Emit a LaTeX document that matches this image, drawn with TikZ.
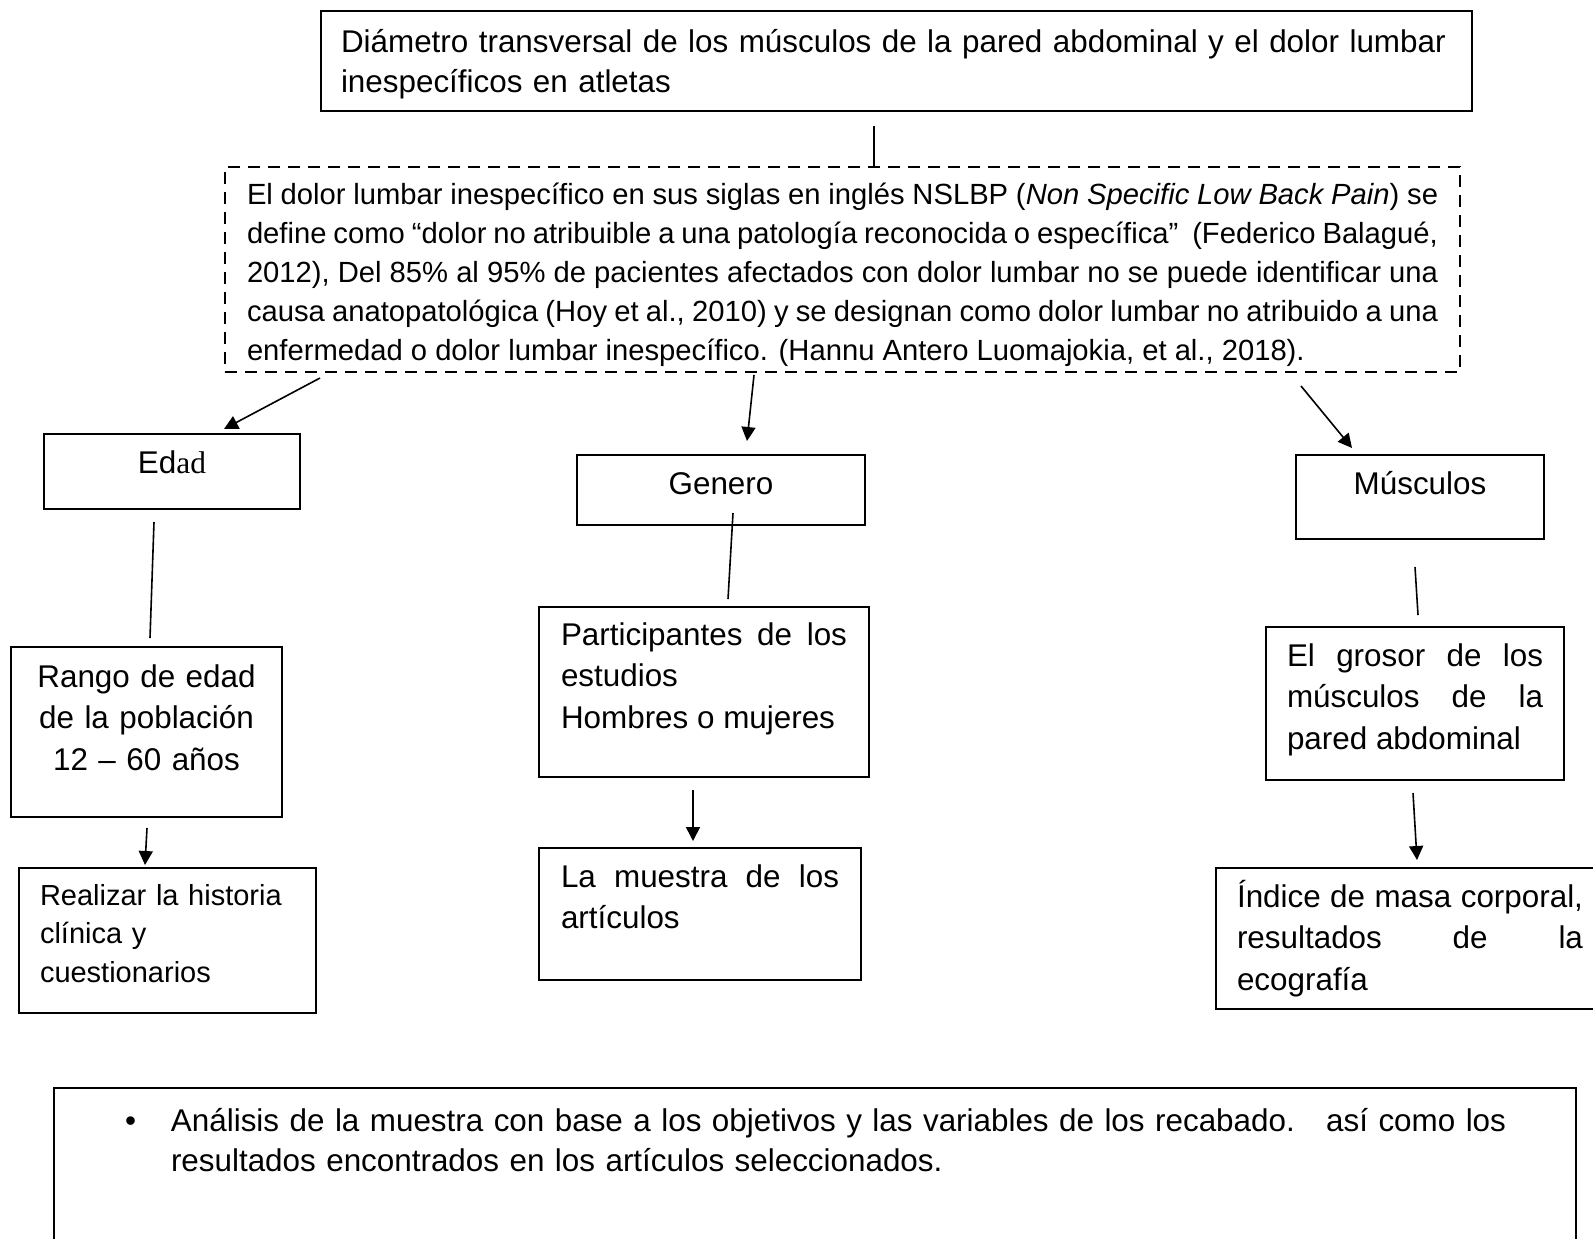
\documentclass[tikz,border=0pt]{standalone}
\usepackage{fontspec}
\setmainfont{Liberation Sans}
\newfontfamily\timesad{Liberation Serif}
\usetikzlibrary{arrows.meta,calc}
\newcommand{\docfont}{\fontsize{15.7pt}{20pt}\selectfont}
\newcommand{\boxfont}{\fontsize{15.7pt}{20.75pt}\selectfont}
\newcommand{\notefont}{\fontsize{14.6pt}{19.5pt}\selectfont}
\newcommand{\smallfont}{\fontsize{14.5pt}{19.3pt}\selectfont}

\begin{document}
\begin{tikzpicture}[x=0.5pt,y=-0.5pt,
  box/.style={draw,line width=1pt,anchor=north west,inner ysep=0pt,font=\docfont},
  dbox/.style={box,dash pattern=on 6pt off 4pt},
  link/.style={line width=0.8pt},
  >={Triangle[length=7pt,width=7pt]}]
\useasboundingbox (0,0) rectangle (1593,1238);
% boxes
\node[box,text width=555.5pt,inner xsep=10pt,text height=20.5pt,text depth=29.5pt,align=left] (titulo) at (320,10)
  {Diámetro transversal de los músculos de la pared abdominal y el dolor lumbar\\inespecíficos en atletas};
\node[dbox,font=\notefont,text width=595.5pt,inner xsep=11pt,text height=18.5pt,text depth=84pt,align=justify] (nslbp) at (224,166)
  {El dolor lumbar inespecífico en sus siglas en inglés NSLBP (\textit{Non Specific Low Back Pain}) se\linebreak
   define como “dolor no atribuible a una patología reconocida o específica”\ \ (Federico Balagué,\linebreak
   2012), Del 85\% al 95\% de pacientes afectados con dolor lumbar no se puede identificar una\linebreak
   causa anatopatológica (Hoy et al., 2010) y se designan como dolor lumbar no atribuido a una\linebreak
   enfermedad o dolor lumbar inespecífico. (Hannu Antero Luomajokia, et al., 2018).};
\node[box,text width=118pt,inner xsep=5pt,text height=19.5pt,text depth=18pt,align=center] (edad) at (43,433) {Ed{\timesad ad}};
\node[box,text width=134pt,inner xsep=5pt,text height=19.5pt,text depth=15.5pt,align=center] (genero) at (576,454) {Genero};
\node[box,text width=114pt,inner xsep=5pt,text height=19.5pt,text depth=22.5pt,align=center] (musculos) at (1295,454) {Músculos};
\node[box,font=\boxfont,text width=125.5pt,inner xsep=5pt,text height=20pt,text depth=65pt,align=center] (rango) at (10,646)
  {Rango de edad\\de la población\\12 – 60 años};
\node[box,font=\smallfont,text width=127.5pt,inner xsep=10.5pt,text height=18.5pt,text depth=54pt,align=left] (realizar) at (18,867)
  {Realizar la historia\\clínica y\\cuestionarios};
\node[box,font=\boxfont,text width=143pt,inner xsep=11pt,text height=19pt,text depth=66pt,align=justify] (part) at (538,606)
  {Participantes de los\linebreak estudios\\Hombres o mujeres};
\node[box,font=\boxfont,text width=139pt,inner xsep=11pt,text height=19.5pt,text depth=46.5pt,align=justify] (muestra) at (538,847)
  {La muestra de los\linebreak artículos};
\node[box,font=\boxfont,text width=128pt,inner xsep=10.5pt,text height=19.5pt,text depth=57pt,align=justify] (grosor) at (1265,626)
  {El grosor de los\linebreak músculos de la\linebreak pared abdominal};
\node[box,font=\boxfont,text width=173pt,inner xsep=10.5pt,text height=19.5pt,text depth=51pt,align=justify] (indice) at (1215,867)
  {Índice de masa corporal,\linebreak resultados de la\linebreak ecografía};
\node[box,text width=701pt,inner xsep=30pt,text height=21.5pt,text depth=78.5pt,align=left] (analisis) at (53,1087)
  {\hspace*{5.5pt}\makebox[23pt][l]{•}Análisis de la muestra con base a los objetivos y las variables de los recabado.\ \ \ así como los\\
   \hspace*{28.5pt}resultados encontrados en los artículos seleccionados.};
% connectors
\draw[link] ($(titulo.south west)+(554,14)$) -- ($(nslbp.north west)+(650,0)$);
\draw[link,->] ($(nslbp.south west)+(96,5)$) -- ($(edad.north west)+(181,-4)$);
\draw[link,->] ($(nslbp.south west)+(530,2)$) -- ($(genero.north west)+(171,-13)$);
\draw[link,->] ($(nslbp.south west)+(1077,13)$) -- ($(musculos.north west)+(57,-6)$);
\draw[link] ($(edad.south west)+(111,12)$) -- ($(rango.north west)+(140,-8)$);
\draw[link,->] ($(rango.south west)+(137,10)$) -- ($(realizar.north west)+(127,-2)$);
\draw[link] ($(genero.south west)+(157,-13)$) -- ($(part.north west)+(190,-7)$);
\draw[link,->] ($(part.south west)+(155,12)$) -- ($(muestra.north west)+(155,-6)$);
\draw[link] ($(musculos.south west)+(120,27)$) -- ($(grosor.north west)+(153,-11)$);
\draw[link,->] ($(grosor.south west)+(148,12)$) -- ($(indice.north west)+(202,-7)$);
\end{tikzpicture}
\end{document}
